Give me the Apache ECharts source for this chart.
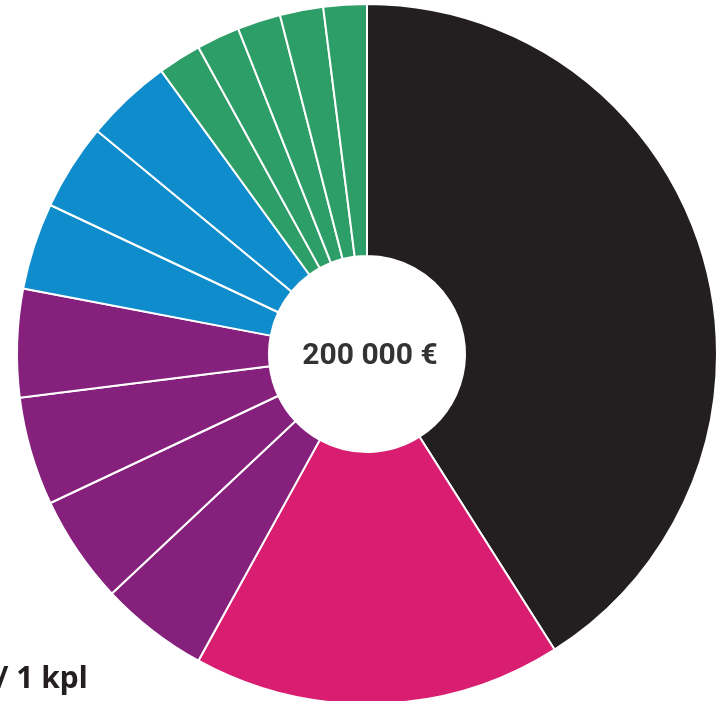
<!DOCTYPE html>
<html>
<head>
<meta charset="utf-8">
<script src="https://cdn.jsdelivr.net/npm/echarts@6/dist/echarts.min.js"></script>
<style>
  html, body { margin: 0; padding: 0; background: #fff; }
  #chart { width: 726px; height: 701px; }
</style>
</head>
<body>
<div id="chart"></div>
<script>
  // slice values (euros out of 200 000)
  const sliceNames = ['A', 'B', 'C1', 'C2', 'C3', 'C4', 'D1', 'D2', 'D3', 'E1', 'E2', 'E3', 'E4', 'E5'];
  const sliceValues = [82000, 34000, 10000, 10000, 10000, 10000, 8000, 8000, 8000, 4000, 4000, 4000, 4000, 4000];
  const sliceColors = ['#231f20', '#d91e71', '#85207c', '#85207c', '#85207c', '#85207c',
    '#0e8ccc', '#0e8ccc', '#0e8ccc', '#2e9e68', '#2e9e68', '#2e9e68', '#2e9e68', '#2e9e68'];
  const centerLabel = '200 000 €';
  const footLabel = '/ 1 kpl';

  let chart = echarts.init(document.getElementById('chart'));
  chart.setOption({
    animation: false,
    graphic: [{
      type: 'text',
      left: -4,
      top: 664,
      style: {
        text: footLabel,
        fontSize: 30,
        fontWeight: 'bold',
        fontFamily: 'Noto Sans',
        fill: '#231f20'
      }
    }],
    series: [{
      type: 'pie',
      center: [367, 354],
      radius: [98, 350],
      startAngle: 90,
      clockwise: true,
      avoidLabelOverlap: false,
      label: { show: false },
      labelLine: { show: false },
      itemStyle: {
        borderColor: '#fff',
        borderWidth: 2
      },
      emphasis: { disabled: true },
      data: sliceNames.map(function (n, i) {
        return { name: n, value: sliceValues[i], itemStyle: { color: sliceColors[i] } };
      })
    }],
    title: {
      text: centerLabel,
      left: 365,
      top: 336,
      textAlign: 'center',
      textStyle: {
        fontSize: 30,
        fontWeight: 'bold',
        fontFamily: 'Roboto',
        color: '#333'
      }
    }
  });
</script>
</body>
</html>
